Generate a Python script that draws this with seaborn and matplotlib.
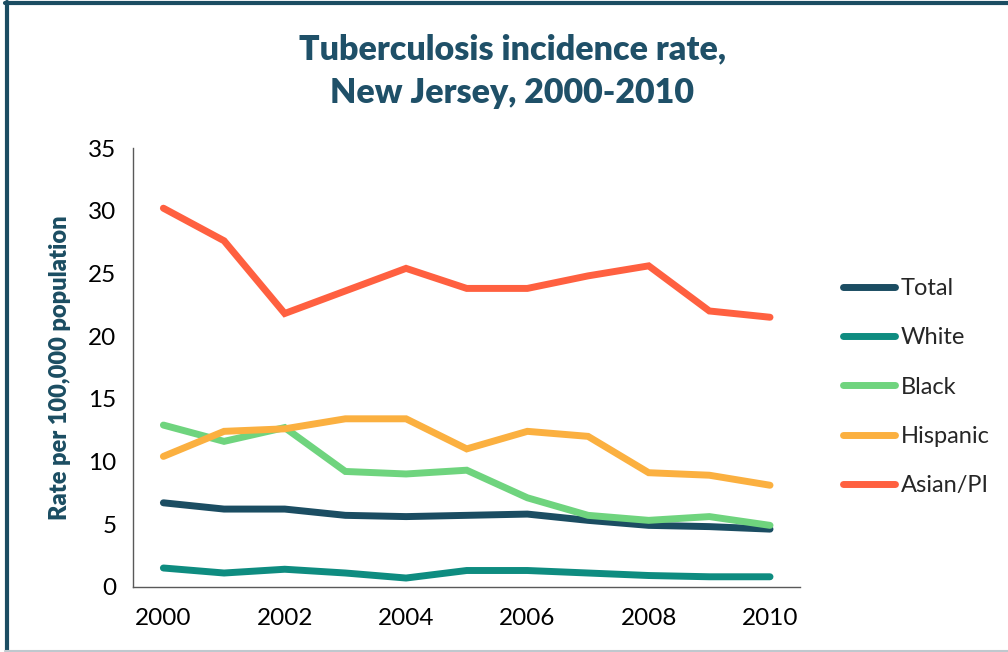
import matplotlib
matplotlib.use("Agg")
import matplotlib.pyplot as plt
import seaborn as sns
import pandas as pd
from matplotlib.lines import Line2D

years = list(range(2000, 2011))
total = [6.7, 6.2, 6.2, 5.7, 5.6, 5.7, 5.8, 5.3, 4.9, 4.8, 4.6]
white = [1.5, 1.1, 1.4, 1.1, 0.7, 1.3, 1.3, 1.1, 0.9, 0.8, 0.8]
black = [12.9, 11.6, 12.7, 9.2, 9.0, 9.3, 7.1, 5.7, 5.3, 5.6, 4.9]
hispanic = [10.4, 12.4, 12.6, 13.4, 13.4, 11.0, 12.4, 12.0, 9.1, 8.9, 8.1]
asian_pi = [30.2, 27.6, 21.8, 23.6, 25.4, 23.8, 23.8, 24.8, 25.6, 22.0, 21.5]

groups = ["Total", "White", "Black", "Hispanic", "Asian/PI"]
colors = ["#1B4D62", "#0E8C80", "#6FD47E", "#FBB040", "#FF6040"]
y_ticks = [0, 5, 10, 15, 20, 25, 30, 35]
x_ticks = [2000, 2002, 2004, 2006, 2008, 2010]

series = [total, white, black, hispanic, asian_pi]
df = pd.DataFrame(
    [(y, g, v) for g, vals in zip(groups, series) for y, v in zip(years, vals)],
    columns=["Year", "Group", "Rate"],
)

sns.set_theme(style="white")
plt.rcParams["font.family"] = ["Lato", "DejaVu Sans"]

fig = plt.figure(figsize=(10.08, 6.52), dpi=100)
ax = fig.add_axes([0.132, 0.100, 0.662, 0.673])

sns.lineplot(
    data=df, x="Year", y="Rate", hue="Group", hue_order=groups,
    palette=colors, linewidth=5, ax=ax, legend=True,
    solid_capstyle="round", solid_joinstyle="miter",
)

ax.set_xlim(1999.5, 2010.5)
ax.set_ylim(0, 35)
ax.set_xticks(x_ticks)
ax.set_yticks(y_ticks)
ax.tick_params(axis="both", labelsize=17.5, colors="#000000", length=0)
ax.tick_params(axis="x", pad=15)
ax.tick_params(axis="y", pad=12)
sns.despine(ax=ax)
for s in ["left", "bottom"]:
    ax.spines[s].set_color("#595959")
    ax.spines[s].set_linewidth(1.0)

ax.set_xlabel("")
ax.set_ylabel("Rate per 100,000 population", fontsize=17, fontweight="heavy",
              color="#1B4D62", labelpad=12)

leg = ax.legend(
    loc="center left", bbox_to_anchor=(1.032, 0.455), frameon=False,
    fontsize=17, handlelength=2.2, handletextpad=0.25, labelspacing=1.2,
)
for h in leg.get_lines():
    h.set_linewidth(5)
    h.set_solid_capstyle("round")

fig.text(0.508, 0.925, "Tuberculosis incidence rate,", ha="center", va="center",
         fontsize=24.5, fontweight="heavy", color="#1F5068")
fig.text(0.508, 0.858, "New Jersey, 2000-2010", ha="center", va="center",
         fontsize=24.5, fontweight="heavy", color="#1F5068")

# frame: dark left and top edges, light bottom edge
fig.add_artist(Line2D([0.007, 0.007], [0.0, 0.997], transform=fig.transFigure,
                      color="#1B4D62", linewidth=3))
fig.add_artist(Line2D([0.005, 1.0], [0.996, 0.996], transform=fig.transFigure,
                      color="#1B4D62", linewidth=3))
fig.add_artist(Line2D([0.005, 1.0], [0.002, 0.002], transform=fig.transFigure,
                      color="#BFC8CE", linewidth=1.5))

fig.savefig("out.png", dpi=100)
